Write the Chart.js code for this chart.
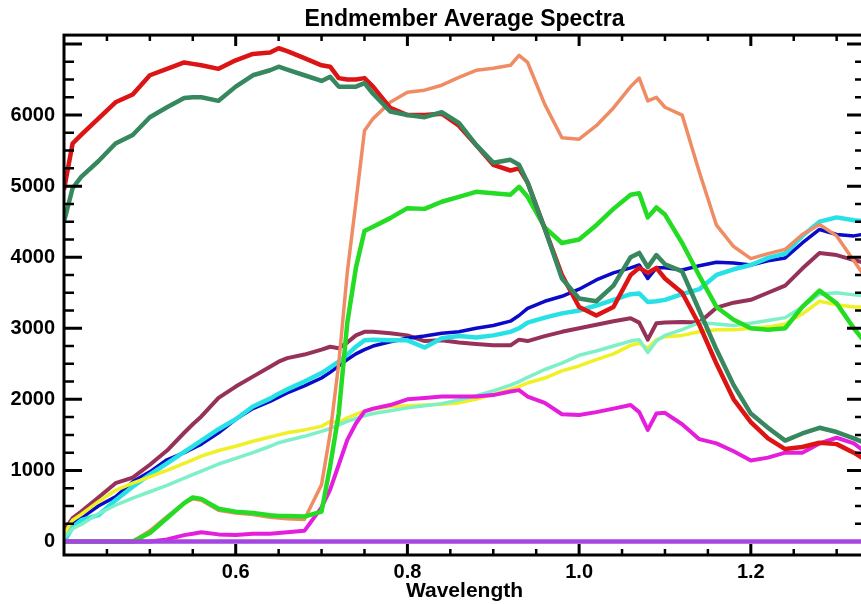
<!DOCTYPE html>
<html>
<head>
<meta charset="utf-8">
<script src="https://cdn.jsdelivr.net/npm/chart.js@4/dist/chart.umd.min.js"></script>
<style>
 body { margin: 0; overflow: hidden; background: #fff; }
 canvas { display: block; }
</style>
</head>
<body>
<canvas id="canvasEspectros" width="868" height="604"></canvas>
<script>
//Longitudes de onda (eje X)
const longitudes = [0.40,0.41,0.42,0.44,0.46,0.48,0.50,0.52,0.54,0.55,0.56,0.58,0.60,0.62,0.64,0.65,0.66,0.68,0.70,0.71,
 0.72,0.73,0.74,0.75,0.76,0.78,0.80,0.82,0.84,0.86,0.88,0.90,0.92,0.93,0.94,0.96,0.98,1.00,1.02,1.04,
 1.06,1.07,1.08,1.09,1.10,1.12,1.14,1.16,1.18,1.20,1.22,1.24,1.26,1.28,1.30,1.32,1.34];

//Espectros promedio de cada endmember
const espectroRojo = [4950,5600,5720,5950,6180,6290,6560,6650,6740,6720,6700,6650,6770,6860,6880,6940,6900,6800,6700,6680,
 6520,6500,6500,6520,6400,6100,6000,6000,6020,5850,5580,5300,5220,5250,5050,4400,3750,3300,3180,3300,
 3750,3850,3780,3850,3700,3500,3050,2500,2000,1680,1450,1300,1330,1390,1370,1250,1100];
const espectroVerdeOscuro = [4500,4970,5130,5350,5600,5720,5970,6110,6240,6250,6250,6200,6400,6560,6630,6680,6640,6560,6480,6540,
 6400,6400,6400,6450,6300,6050,6000,5970,6040,5890,5580,5330,5370,5300,5050,4400,3700,3420,3380,3600,
 4000,4060,3860,4030,3900,3800,3250,2700,2200,1800,1600,1420,1520,1600,1540,1450,1350];
const espectroSalmon = [0,0,0,0,0,0,150,350,540,600,580,440,400,380,340,330,320,310,800,1520,
 2500,3790,4770,5780,5950,6180,6320,6350,6420,6530,6630,6660,6700,6840,6740,6150,5680,5660,5850,6100,
 6400,6520,6200,6250,6110,6000,5200,4450,4150,3980,4050,4110,4320,4460,4300,3950,3600];
const espectroVerdeLima = [0,0,0,0,0,0,120,330,540,620,600,460,420,400,370,360,360,350,420,1060,
 1800,3080,3850,4370,4430,4550,4690,4680,4780,4850,4920,4900,4880,4990,4850,4420,4200,4250,4450,4680,
 4880,4900,4560,4700,4600,4200,3740,3300,3120,3000,2980,3000,3300,3530,3350,3000,2700];
const espectroAzul = [100,250,330,500,630,840,980,1150,1250,1310,1370,1530,1720,1870,1970,2030,2090,2190,2300,2380,
 2470,2560,2640,2700,2750,2810,2860,2890,2930,2950,3000,3040,3100,3180,3280,3380,3450,3550,3680,3780,
 3850,3890,3700,3850,3850,3820,3880,3930,3920,3890,3950,3990,4200,4390,4320,4300,4340];
const espectroCian = [0,200,300,370,580,770,940,1100,1260,1340,1420,1580,1720,1900,2010,2080,2140,2250,2370,2450,
 2530,2630,2740,2830,2840,2830,2830,2730,2860,2890,2870,2900,2950,3000,3080,3150,3210,3250,3320,3400,
 3480,3490,3370,3380,3400,3480,3550,3750,3830,3890,3990,4050,4300,4500,4560,4520,4500];
const espectroGranate = [150,330,420,620,820,900,1080,1280,1530,1650,1760,2020,2180,2320,2460,2530,2580,2630,2700,2740,
 2720,2800,2900,2950,2950,2930,2900,2820,2830,2800,2780,2760,2760,2840,2820,2890,2950,3000,3050,3100,
 3140,3080,2840,3070,3080,3090,3080,3290,3360,3400,3500,3600,3840,4060,4030,3960,3900];
const espectroAmarillo = [100,300,380,560,720,820,910,1000,1100,1150,1200,1280,1340,1410,1470,1500,1530,1570,1620,1690,
 1670,1740,1790,1830,1860,1900,1910,1920,1930,1950,2000,2070,2140,2180,2230,2300,2400,2470,2560,2640,
 2760,2790,2720,2840,2880,2900,2950,2980,2980,3000,3020,3060,3200,3380,3330,3300,3300];
const espectroAguamarina = [50,180,240,390,510,610,700,790,890,940,990,1090,1170,1250,1340,1390,1420,1480,1550,1590,
 1640,1690,1730,1770,1800,1840,1880,1910,1940,1990,2050,2120,2200,2250,2310,2420,2510,2620,2680,2750,
 2820,2840,2660,2820,2900,2980,3080,3060,3040,3070,3110,3150,3300,3480,3500,3470,3450];
const espectroMagenta = [0,0,0,0,0,0,0,30,90,110,130,100,90,110,110,120,130,150,480,730,
 1080,1430,1660,1830,1870,1920,2000,2020,2040,2040,2040,2060,2110,2130,2040,1950,1790,1780,1820,1870,
 1920,1820,1570,1800,1810,1650,1440,1380,1270,1140,1180,1250,1250,1380,1460,1380,1200];
const espectroVioleta = [0,0,0,0,0,0,0,0,0,0,0,0,0,0,0,0,0,0,0,0,
 0,0,0,0,0,0,0,0,0,0,0,0,0,0,0,0,0,0,0,0,
 0,0,0,0,0,0,0,0,0,0,0,0,0,0,0,0,0];

//Marcas con etiqueta en los ejes
const ticksX = [0.6, 0.8, 1.0, 1.2];
const ticksY = [0, 1000, 2000, 3000, 4000, 5000, 6000];

const fuente = "'Liberation Sans', Arial, Helvetica, sans-serif";

//Armo un dataset a partir de un espectro
function armarDataset(nombre, valores, color, ancho) {
 return {
  label: nombre,
  data: longitudes.map((w, i) => ({ x: w, y: valores[i] })),
  borderColor: color,
  backgroundColor: color,
  borderWidth: ancho,
  pointRadius: 0,
  tension: 0,
  borderJoinStyle: 'round',
  fill: false
 };
}

//Plugin que dibuja el marco y las marcas hacia adentro (estilo IDL)
const marcoPlugin = {
 id: 'marco',
 afterDatasetsDraw(chart) {
  const ctx = chart.ctx;
  const a = chart.chartArea;
  const sx = chart.scales.x;
  const sy = chart.scales.y;
  ctx.save();
  ctx.strokeStyle = '#000';
  ctx.lineWidth = 3;
  ctx.strokeRect(a.left, a.top, a.right - a.left, a.bottom - a.top);
  //Marcas del eje X cada 0.05
  for (let k = 9; k <= 26; k++) {
   const px = sx.getPixelForValue(k * 0.05);
   const largo = (k % 4 === 0) ? 11 : 6;
   ctx.lineWidth = (k % 4 === 0) ? 3 : 2.5;
   ctx.beginPath();
   ctx.moveTo(px, a.bottom); ctx.lineTo(px, a.bottom - largo);
   ctx.moveTo(px, a.top); ctx.lineTo(px, a.top + largo);
   ctx.stroke();
  }
  //Marcas del eje Y cada 250 (la de 0 queda tapada por la linea violeta)
  for (let k = 1; k <= 28; k++) {
   const py = sy.getPixelForValue(k * 250);
   if (py < a.top + 2) continue;
   const largo = (k % 4 === 0) ? 18 : 10;
   ctx.lineWidth = (k % 4 === 0) ? 3 : 2.5;
   ctx.beginPath();
   ctx.moveTo(a.left, py); ctx.lineTo(a.left + largo, py);
   ctx.moveTo(a.right, py); ctx.lineTo(a.right - largo, py);
   ctx.stroke();
  }
  ctx.restore();
 }
};

//Obtengo el canvas
const canvas = document.getElementById('canvasEspectros');

//Orden: el primero queda dibujado arriba
const datasets = [
 armarDataset('Violeta', espectroVioleta, 'rgb(165,70,225)', 4.5),
 armarDataset('Verde oscuro', espectroVerdeOscuro, 'rgb(55,135,95)', 4.5),
 armarDataset('Rojo', espectroRojo, 'rgb(220,20,20)', 4.5),
 armarDataset('Verde lima', espectroVerdeLima, 'rgb(35,220,35)', 4.5),
 armarDataset('Salmon', espectroSalmon, 'rgb(240,140,100)', 3.5),
 armarDataset('Magenta', espectroMagenta, 'rgb(228,30,220)', 4),
 armarDataset('Aguamarina', espectroAguamarina, 'rgb(125,240,200)', 3.5),
 armarDataset('Amarillo', espectroAmarillo, 'rgb(240,240,40)', 3.5),
 armarDataset('Cian', espectroCian, 'rgb(40,225,230)', 4.5),
 armarDataset('Azul', espectroAzul, 'rgb(10,10,200)', 3.5),
 armarDataset('Granate', espectroGranate, 'rgb(150,50,90)', 4)
];

const grafico = new Chart(canvas, {
 type: 'line',
 data: { datasets: datasets },
 options: {
  responsive: false,
  animation: false,
  devicePixelRatio: 1,
  layout: { padding: { left: 0, right: 3, top: 0, bottom: 0 } },
  plugins: {
   legend: { display: false },
   tooltip: { enabled: false },
   title: {
    display: true,
    text: 'Endmember Average Spectra',
    fullSize: false,
    color: '#000',
    font: { family: fuente, size: 23, weight: 'bold' },
    padding: { top: 6, bottom: 1.5 }
   }
  },
  scales: {
   x: {
    type: 'linear',
    min: 0.4,
    max: 1.333,
    afterBuildTicks: s => { s.ticks = ticksX.map(v => ({ value: v })); },
    afterFit: s => { s.height = 49; },
    grid: { display: false, drawTicks: false },
    border: { display: false },
    ticks: {
     padding: 5,
     color: '#000',
     maxRotation: 0,
     autoSkip: false,
     font: { family: fuente, size: 20, weight: 'bold' },
     callback: v => Number(v).toFixed(1)
    },
    title: {
     display: true,
     text: 'Wavelength',
     color: '#000',
     font: { family: fuente, size: 21, weight: 'bold' },
     padding: { top: 0, bottom: 0 }
    }
   },
   y: {
    min: -190,
    max: 7125,
    afterBuildTicks: s => { s.ticks = ticksY.map(v => ({ value: v })); },
    afterFit: s => { s.width = 64; },
    grid: { display: false, drawTicks: false },
    border: { display: false },
    ticks: {
     padding: 9,
     color: '#000',
     font: { family: fuente, size: 20, weight: 'bold' },
     callback: v => String(v)
    }
   }
  }
 },
 plugins: [marcoPlugin]
});
</script>
</body>
</html>
